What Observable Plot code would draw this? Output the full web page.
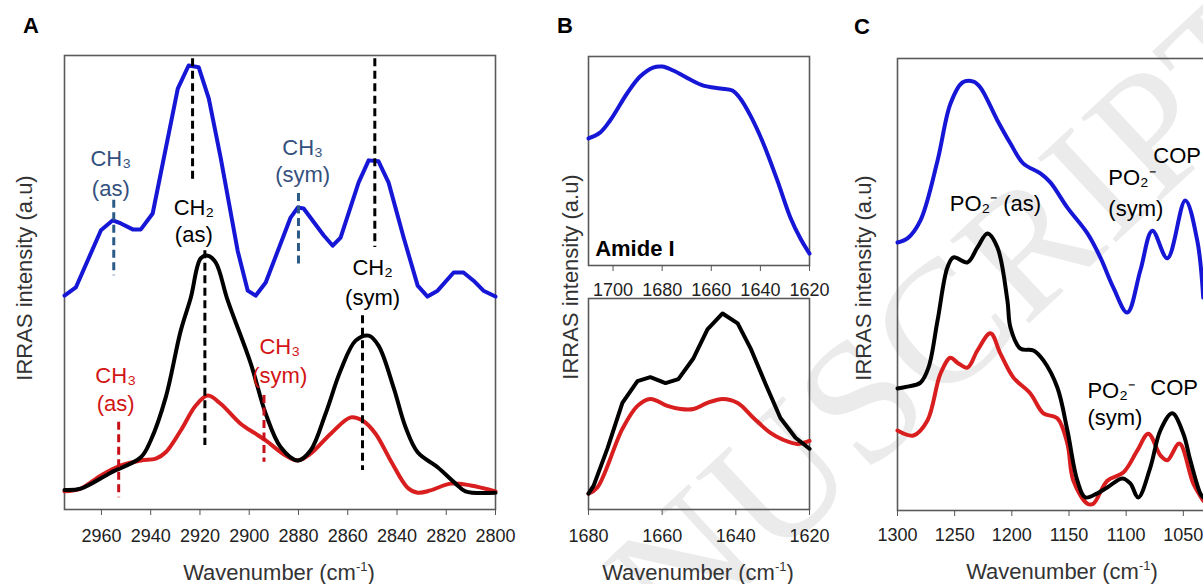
<!DOCTYPE html>
<html>
<head>
<meta charset="utf-8">
<script src="https://cdn.jsdelivr.net/npm/d3@7"></script>
<script src="https://cdn.jsdelivr.net/npm/@observablehq/plot@0.6"></script>
<style>
  html, body { margin: 0; padding: 0; background: #fff; overflow: hidden; }
  #fig { position: relative; width: 1203px; height: 584px; overflow: hidden;
         font-family: 'Liberation Sans', Arial, Helvetica, sans-serif; color: #222; }
  .abs { position: absolute; white-space: nowrap; }
  .letter { font-weight: bold; font-size: 22px; color: #000; transform: translate(-50%, -50%); }
  .ylab { font-size: 22px; transform: translate(-50%, -50%) rotate(-90deg); color: #333; }
  .xlab { font-size: 22px; transform: translate(-50%, -50%); color: #333; }
  .xlab sup { font-size: 13px; vertical-align: 9px; line-height: 0; }
  .wm { font-family: 'Liberation Serif', 'DejaVu Serif', serif; font-size: 175px; color: #ebebeb;
        transform: translate(-50%, -50%) rotate(-43deg); letter-spacing: 2px; }
  svg { position: absolute; }
</style>
</head>
<body>
<div id="fig"></div>
<script>
// ---------------- DATA ----------------
// Panel A: wavenumber (cm-1), intensity (a.u., arbitrary 0-100)
const aTicks = [2960, 2940, 2920, 2900, 2880, 2860, 2840, 2820, 2800];
const aBlue = [[2975,47.1],[2970.4,48.9],[2960.2,61.5],[2955.4,63.7],[2952.1,63.0],[2947.3,61.7],[2944,61.7],[2939.2,65.2],[2929,92.7],[2924.6,97.8],[2920.5,97.4],[2916.4,90.5],[2911.6,77.5],[2904.7,57.0],[2900.6,48.2],[2897.4,47.1],[2893.3,50.0],[2883.2,64.3],[2880.3,66.5],[2877.9,66.3],[2869.8,60.4],[2866.1,58.1],[2862.9,59.9],[2855.6,72.0],[2851.5,76.9],[2847.5,76.7],[2843.4,72.0],[2837.3,59.9],[2831.6,49.3],[2827.6,46.9],[2823.5,48.2],[2817,52.2],[2813,52.2],[2808.9,50.4],[2804.9,48.2],[2800,46.9]];
const aBlack = [[2975,4.3],[2968.4,4.6],[2956.2,8.1],[2944,11.5],[2940,15.2],[2933.9,24.7],[2927.8,39.4],[2923.7,46.7],[2919.7,55.3],[2916.8,55.9],[2913.6,54.4],[2908.7,46.0],[2899.4,32.2],[2893.3,21.1],[2887.2,13.7],[2880.3,10.8],[2875.1,13.0],[2869,21.1],[2862.9,30.6],[2856.8,37.2],[2851.5,38.3],[2847.5,36.1],[2841.4,26.9],[2836.5,18.1],[2831.6,12.6],[2823.5,9.3],[2816.2,5.7],[2812.2,4.0],[2800,3.7]];
const aRed = [[2975,4.0],[2968.4,4.6],[2960.2,7.5],[2952.1,9.7],[2944,10.8],[2937.9,11.2],[2933.9,12.6],[2927.8,17.4],[2921.7,22.9],[2916.8,25.1],[2911.6,23.3],[2903.5,18.9],[2897.4,16.7],[2893.3,15.2],[2885.2,11.9],[2880.3,10.8],[2875.1,12.3],[2866.9,16.7],[2858.8,20.3],[2854,19.6],[2848.7,16.7],[2842.6,10.8],[2835.7,4.8],[2831.6,3.7],[2826.4,4.2],[2818.3,5.7],[2810.1,5.3],[2800,4.0]];
// band markers: wavenumber, from, to, colour group
const aMarkers = [
  {wn: 2923, y1: 99.3, y2: 71.8, g: "k"},
  {wn: 2849, y1: 99.3, y2: 57.7, g: "k"},
  {wn: 2955, y1: 68.1, y2: 51.5, g: "t"},
  {wn: 2880, y1: 69.6, y2: 53.3, g: "t"},
  {wn: 2918, y1: 57.0, y2: 14.1, g: "k"},
  {wn: 2854, y1: 42.7, y2: 8.6, g: "k"},
  {wn: 2953, y1: 19.2, y2: 2.6, g: "r"},
  {wn: 2894, y1: 25.1, y2: 10.4, g: "r"}
];
const aLabels = [
  {wn: 2956.2, v: 77.3, t: "CH₃", g: "t"}, {wn: 2956.2, v: 70.7, t: "(as)", g: "t"},
  {wn: 2922.5, v: 66.5, t: "CH₂", g: "k"}, {wn: 2922.5, v: 60.4, t: "(as)", g: "k"},
  {wn: 2878.3, v: 79.7, t: "CH₃", g: "t"}, {wn: 2878.3, v: 73.6, t: "(sym)", g: "t"},
  {wn: 2849.9, v: 53.1, t: "CH₂", g: "k"}, {wn: 2849.9, v: 46.7, t: "(sym)", g: "k"},
  {wn: 2954.2, v: 29.5, t: "CH₃", g: "r"}, {wn: 2954.2, v: 23.3, t: "(as)", g: "r"},
  {wn: 2887.6, v: 35.7, t: "CH₃", g: "r"}, {wn: 2887.6, v: 29.5, t: "(sym)", g: "r"}
];

// Panel B (top): Amide I, blue
const bTopTicks = [1700, 1680, 1660, 1640, 1620];
const bTopBlue = [[1710,60.8],[1705.3,63.6],[1701.2,69.4],[1694.3,82.3],[1689,90.4],[1683.7,94.7],[1680,95.2],[1675.5,93.3],[1668.6,89],[1663.2,86.1],[1656.3,84.7],[1651.4,83.7],[1648.2,79.9],[1644.1,71.8],[1638.8,58.4],[1633.1,40.7],[1627.8,23],[1623.7,12.9],[1620,5.7]];
const bTopLabel = [{wn: 1707.3, v: 8.1, t: "Amide I"}];

// Panel B (bottom): black and red
const bBotTicks = [1680, 1660, 1640, 1620];
const bBotBlack = [[1680,7.5],[1678.6,11.3],[1674.8,29.2],[1670.8,50.5],[1666.7,60.8],[1663.2,62.7],[1659.1,59.9],[1655.6,61.8],[1651.5,71.7],[1647.7,85.4],[1643.6,92.9],[1639.5,88.2],[1636,76.4],[1631.9,59.4],[1627.9,43.4],[1623.8,34],[1620,28.8]];
const bBotRed = [[1680,7.5],[1677.6,10.4],[1670.8,38.2],[1666.7,49.1],[1663.2,52.4],[1658.6,49.1],[1655,47.6],[1651.5,47.6],[1647.7,50.5],[1643.6,52.4],[1639.5,50.5],[1635.2,43.4],[1630.6,36.3],[1627.1,33],[1623.3,31.1],[1620,32.5]];

// Panel C
const cTicks = [1300, 1250, 1200, 1150, 1100, 1050, 1000];
const cBlue = [[1300,59.3],[1291.3,60.2],[1279.9,64.2],[1265,77.4],[1253.7,90.0],[1243.2,94.7],[1233.6,94.9],[1227.5,93.6],[1212.6,86.3],[1201.2,81.2],[1190.1,76.8],[1175,74.6],[1166.3,72.6],[1151.4,67.0],[1133.9,61.3],[1122.6,56.0],[1111.2,49.3],[1099,43.8],[1087.6,53.1],[1077.1,61.9],[1064,55.8],[1048.3,68.6],[1037.8,59.7],[1032.6,47.1]];
const cBlack = [[1300,27.0],[1291.3,27.4],[1279.9,28.3],[1272.9,31.6],[1265,42.0],[1256.3,53.8],[1251,56.0],[1238.8,54.9],[1230.1,58.2],[1221.3,61.3],[1212.6,58.2],[1203.9,46.5],[1201.2,40.5],[1192.5,35.8],[1181.1,35.4],[1172.4,33.2],[1160.2,27.2],[1151.4,17.7],[1142.7,6.6],[1135.7,2.9],[1125.2,3.8],[1116.5,5.1],[1103.4,7.1],[1096.4,6.0],[1089.4,2.9],[1078.9,9.5],[1070.1,17.7],[1059.7,21.5],[1050,17.0],[1043.9,11.1],[1035.2,3.8],[1032.6,2.9]];
const cRed = [[1300,17.7],[1286,16.6],[1273.8,19.9],[1262.4,30.3],[1253.7,33.8],[1247.6,32.7],[1238.8,31.6],[1230.1,35.4],[1218.7,39.2],[1210,34.7],[1198.6,29.4],[1183.8,25.9],[1172.4,21.5],[1160.2,20.4],[1151.4,14.8],[1146.2,6.6],[1133.9,1.5],[1128.7,1.5],[1116.5,6.6],[1102.5,8.4],[1090.2,13.3],[1080.6,17.0],[1070.1,12.2],[1064,11.1],[1053.5,14.8],[1041.3,6.0],[1032.6,2.2]];
const cLabelsCentered = [
  {wn: 1214.3, v: 67.9, t: "PO₂⁻ (as)"}
];
const cLabelsLeft = [
  {wn: 1115.6, v: 73.5, t: "PO₂⁻"},
  {wn: 1115.6, v: 66.8, t: "(sym)"},
  {wn: 1076.3, v: 78.5, t: "COP"},
  {wn: 1133.9, v: 26.5, t: "PO₂⁻"},
  {wn: 1133.9, v: 20.4, t: "(sym)"},
  {wn: 1078.9, v: 27.2, t: "COP"}
];

// ---------------- STYLE ----------------
const BLUE = "#1616d6", RED = "#d81e1e", BLACK = "#000000";
const groupColor = {k: "#000000", t: "#2c5a86", r: "#c8101a"};
const labelColor = {k: "#000000", t: "#34507e", r: "#d21414"};
const FONT = "'Liberation Sans', Arial, Helvetica, sans-serif";
const toXY = arr => arr.map(([wn, v]) => ({wn, v}));

function panel({width, height, ml, mr, mt, mb, domain, ticks, tickPadding, marks}) {
  return Plot.plot({
    width, height,
    marginLeft: ml, marginRight: mr, marginTop: mt, marginBottom: mb,
    x: {domain},
    y: {domain: [0, 100], axis: null},
    style: {fontFamily: FONT, fontSize: "18px", background: "transparent", color: "#222", overflow: "visible", maxWidth: "none"},
    marks: [
      Plot.frame({stroke: "#5a5a5a", strokeWidth: 1.6}),
      Plot.axisX({ticks, tickSize: 6, tickPadding, tickFormat: d => String(d), label: null, stroke: "#555", fill: "#222", fontSize: 18}),
      ...marks
    ]
  });
}
const line = (data, color, curve = "linear") =>
  Plot.line(toXY(data), {x: "wn", y: "v", stroke: color, strokeWidth: 4, curve, strokeLinejoin: "round"});

const fig = document.getElementById("fig");
function place(el, left, top) { el.style.left = left + "px"; el.style.top = top + "px"; fig.appendChild(el); }

// watermark (behind)
const wm = document.createElement("div");
wm.className = "abs wm"; wm.textContent = "MANUSCRIPT";
place(wm, 848, 412);

// Panel A
place(panel({
  width: 540, height: 584, ml: 64, mr: 45, mt: 55, mb: 75,
  domain: [2975, 2800], ticks: aTicks, tickPadding: 13.5,
  marks: [
    line(aBlue, BLUE),
    line(aRed, RED, "catmull-rom"),
    line(aBlack, BLACK, "catmull-rom"),
    Plot.ruleX(aMarkers, {x: "wn", y1: "y1", y2: "y2", stroke: d => groupColor[d.g], strokeWidth: 3, strokeDasharray: "8,4.5"}),
    Plot.text(aLabels, {x: "wn", y: "v", text: "t", fill: d => labelColor[d.g], fontSize: 22})
  ]
}), 0, 0);

// Panel B top
place(panel({
  width: 300, height: 296, ml: 48, mr: 31, mt: 56, mb: 31,
  domain: [1710, 1620], ticks: bTopTicks, tickPadding: 11.5,
  marks: [
    line(bTopBlue, BLUE, "catmull-rom"),
    Plot.text(bTopLabel, {x: "wn", y: "v", text: "t", fill: "#000", fontSize: 22, fontWeight: "bold", textAnchor: "start"})
  ]
}), 540, 0);

// Panel B bottom
place(panel({
  width: 300, height: 288, ml: 48, mr: 31, mt: 2, mb: 75,
  domain: [1680, 1620], ticks: bBotTicks, tickPadding: 13.5,
  marks: [
    line(bBotRed, RED, "catmull-rom"),
    line(bBotBlack, BLACK)
  ]
}), 540, 296);

// Panel C
place(panel({
  width: 420, height: 584, ml: 57, mr: 20, mt: 58, mb: 74,
  domain: [1300, 1000], ticks: cTicks, tickPadding: 11.5,
  marks: [
    line(cBlue, BLUE, "catmull-rom"),
    line(cRed, RED, "catmull-rom"),
    line(cBlack, BLACK, "catmull-rom"),
    Plot.text(cLabelsCentered, {x: "wn", y: "v", text: "t", fill: "#000", fontSize: 22, textAnchor: "middle"}),
    Plot.text(cLabelsLeft, {x: "wn", y: "v", text: "t", fill: "#000", fontSize: 22, textAnchor: "start"})
  ]
}), 840, 0);

// HTML text: panel letters, axis titles
function html(cls, content, left, top) {
  const d = document.createElement("div");
  d.className = "abs " + cls; d.innerHTML = content; place(d, left, top);
}
html("letter", "A", 31, 26);
html("letter", "B", 565, 26);
html("letter", "C", 862, 27);
html("ylab", "IRRAS intensity (a.u)", 25, 278);
html("ylab", "IRRAS intensity (a.u)", 571, 277);
html("ylab", "IRRAS intensity (a.u)", 864, 278);
html("xlab", "Wavenumber (cm<sup>-1</sup>)", 279, 573);
html("xlab", "Wavenumber (cm<sup>-1</sup>)", 698, 573);
html("xlab", "Wavenumber (cm<sup>-1</sup>)", 1062, 572);
</script>
</body>
</html>
